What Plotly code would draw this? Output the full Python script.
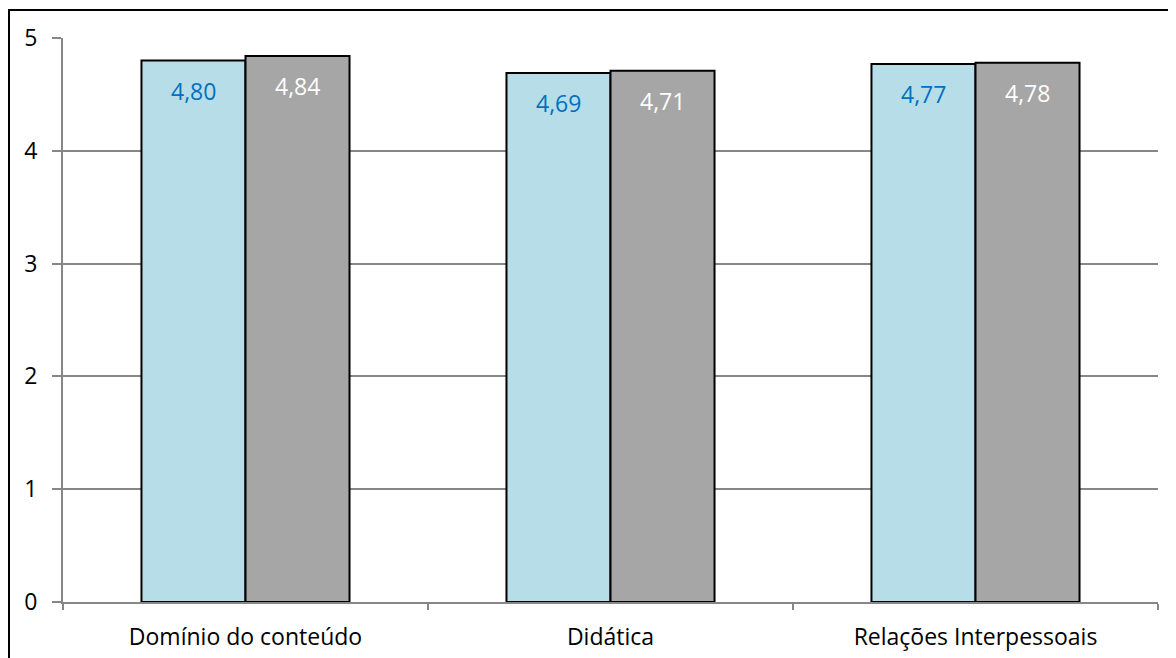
import plotly.graph_objects as go

categories = ["Domínio do conteúdo", "Didática", "Relações Interpessoais"]
series_a = [4.80, 4.69, 4.77]
series_b = [4.84, 4.71, 4.78]
labels_a = ["4,80", "4,69", "4,77"]
labels_b = ["4,84", "4,71", "4,78"]
y_ticks = [0, 1, 2, 3, 4, 5]

FONT = "Open Sans"
GRID = "#878787"
FS = 23

# page has an 8px body margin; figure sized to fill the rest of the window
W, H = 1168, 650
L, R, T, B = 55, 18, 30, 56
PW, PH = W - L - R, H - T - B

fig = go.Figure()
fig.add_trace(go.Bar(x=categories, y=series_a, name="A",
                     marker=dict(color="#b7dde8", line=dict(color="black", width=2))))
fig.add_trace(go.Bar(x=categories, y=series_b, name="B",
                     marker=dict(color="#a6a6a6", line=dict(color="black", width=2))))

for cat, v, t in zip(categories, series_a, labels_a):
    fig.add_annotation(x=cat, y=v, text=t, showarrow=False, xshift=-52, yshift=-12,
                       yanchor="top", font=dict(family=FONT, size=FS, color="#0070c0"))
for cat, v, t in zip(categories, series_b, labels_b):
    fig.add_annotation(x=cat, y=v, text=t, showarrow=False, xshift=52, yshift=-12,
                       yanchor="top", font=dict(family=FONT, size=FS, color="white"))

fig.add_shape(type="rect", xref="paper", yref="paper",
              x0=(1 - L) / PW, x1=1.2, y0=-0.5, y1=1 + (T - 2) / PH,
              line=dict(color="black", width=2), fillcolor="rgba(0,0,0,0)",
              layer="above")

fig.update_layout(
    width=W, height=H,
    margin=dict(l=L, r=R, t=T, b=B, pad=0),
    paper_bgcolor="white", plot_bgcolor="white",
    barmode="group", bargap=0.43, bargroupgap=0,
    showlegend=False,
    font=dict(family=FONT, size=FS, color="black"),
    xaxis=dict(showline=True, linecolor=GRID, linewidth=2, ticks="outside",
               tickson="boundaries", ticklen=6, tickcolor=GRID, tickwidth=2,
               showgrid=False, tickfont=dict(size=FS), ticklabelstandoff=13,
               automargin=False),
    yaxis=dict(range=[0, 5], tickvals=y_ticks, showline=True, linecolor=GRID, linewidth=2,
               ticks="outside", ticklen=9, tickcolor=GRID, tickwidth=2,
               showgrid=True, gridcolor=GRID, gridwidth=2, zeroline=False,
               tickfont=dict(size=FS), ticklabelstandoff=10, automargin=False),
)

fig.write_html("out.html")
